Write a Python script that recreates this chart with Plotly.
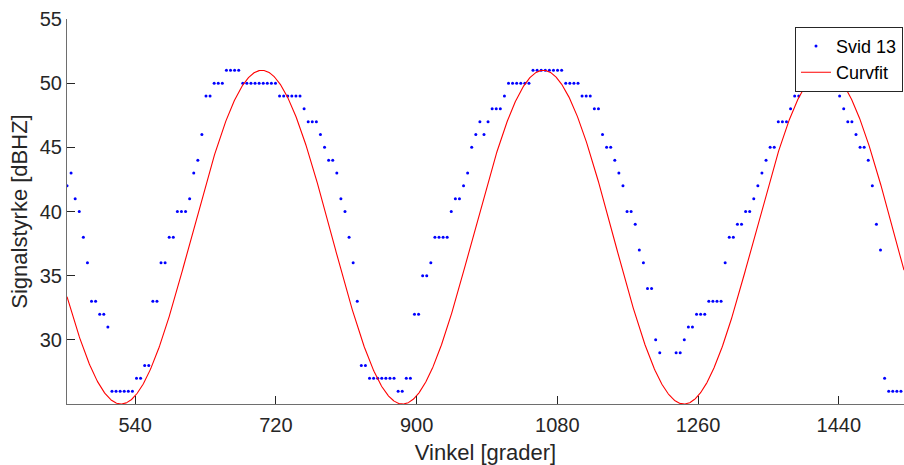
import numpy as np
import plotly.graph_objects as go

# Measured signal strength for satellite "Svid 13", one sample per step in angle
angle_first = 452.9      # degrees, first sample
angle_last = 1519.5      # degrees, last sample
signal_dbhz = [
    42, 43, 41, 40, 38, 36, 33, 33, 32, 32,
    31, 26, 26, 26, 26, 26, 26, 27, 27, 28,
    28, 33, 33, 36, 36, 38, 38, 40, 40, 40,
    41, 43, 44, 46, 49, 49, 50, 50, 50, 51,
    51, 51, 51, 50, 50, 50, 50, 50, 50, 50,
    50, 50, 49, 49, 49, 49, 49, 49, 48, 47,
    47, 47, 46, 45, 44, 44, 43, 41, 40, 38,
    36, 33, 28, 28, 27, 27, 27, 27, 27, 27,
    27, 26, 26, 27, 27, 32, 32, 35, 35, 36,
    38, 38, 38, 38, 40, 41, 41, 42, 43, 45,
    46, 47, 46, 47, 48, 48, 48, 49, 50, 50,
    50, 50, 50, 50, 51, 51, 51, 51, 51, 51,
    51, 51, 50, 50, 50, 50, 49, 49, 49, 48,
    48, 46, 45, 45, 44, 43, 42, 40, 40, 39,
    37, 36, 34, 34, 30, 29, None, None, None, 29,
    29, 30, 31, 31, 32, 32, 32, 33, 33, 33,
    33, 36, 38, 38, 39, 39, 40, 40, 41, 42,
    43, 44, 45, 45, 47, 47, 47, 48, 49, 49,
    50, 50, 50, 51, 51, 51, 51, 50, 50, 49,
    48, 47, 47, 46, 45, 45, 44, 42, 39, 37,
    27, 26, 26, 26, 26,
]
angles = np.linspace(angle_first, angle_last, len(signal_dbhz))

# Fitted sinusoid: mean + amplitude * cos(2*pi*(angle - peak)/period)
fit_mean = 38.0
fit_amplitude = 13.0
fit_period = 360.0
fit_peak_angle = 702.0

x_min, x_max = angle_first, 1523.4
fit_x = np.linspace(x_min, x_max, 1500)
fit_y = fit_mean + fit_amplitude * np.cos(2 * np.pi * (fit_x - fit_peak_angle) / fit_period)

x_ticks = [540, 720, 900, 1080, 1260, 1440]
y_ticks = [30, 35, 40, 45, 50, 55]

FONT = "Liberation Sans, Arial, Helvetica, sans-serif"
AXIS_GRAY = "#262626"

fig = go.Figure()
fig.add_trace(go.Scatter(
    x=angles, y=signal_dbhz, mode="markers", name="Svid 13",
    marker=dict(color="#0000ff", size=3, symbol="circle", line=dict(width=0)),
))
fig.add_trace(go.Scatter(
    x=fit_x, y=fit_y, mode="lines", name="Curvfit",
    line=dict(color="#ff0000", width=1.1),
))

fig.update_layout(
    width=904, height=465,
    margin=dict(l=67, r=0, t=19, b=61),
    plot_bgcolor="white", paper_bgcolor="white",
    font=dict(family=FONT, color=AXIS_GRAY),
    showlegend=True,
    legend=dict(
        x=0.9988, xanchor="right", y=0.98, yanchor="top",
        bgcolor="white", bordercolor=AXIS_GRAY, borderwidth=1,
        font=dict(family=FONT, size=18, color="#000000"),
        tracegroupgap=0,
    ),
)
fig.update_xaxes(
    range=[x_min, x_max], tickvals=x_ticks, ticks="inside", ticklen=8,
    tickcolor=AXIS_GRAY, showline=True, linecolor="#6e6e6e", linewidth=1,
    showgrid=False, zeroline=False, mirror=False,
    tickfont=dict(family=FONT, size=20, color=AXIS_GRAY),
    ticklabelstandoff=3,
    title=dict(text="Vinkel [grader]", font=dict(family=FONT, size=22, color=AXIS_GRAY), standoff=12),
)
fig.update_yaxes(
    range=[25, 55], tickvals=y_ticks, ticks="inside", ticklen=8,
    tickcolor=AXIS_GRAY, showline=True, linecolor="#6e6e6e", linewidth=1,
    showgrid=False, zeroline=False, mirror=False,
    tickfont=dict(family=FONT, size=20, color=AXIS_GRAY),
    title=dict(text="Signalstyrke [dBHZ]", font=dict(family=FONT, size=22, color=AXIS_GRAY), standoff=6),
)

fig.write_html("out.html")
